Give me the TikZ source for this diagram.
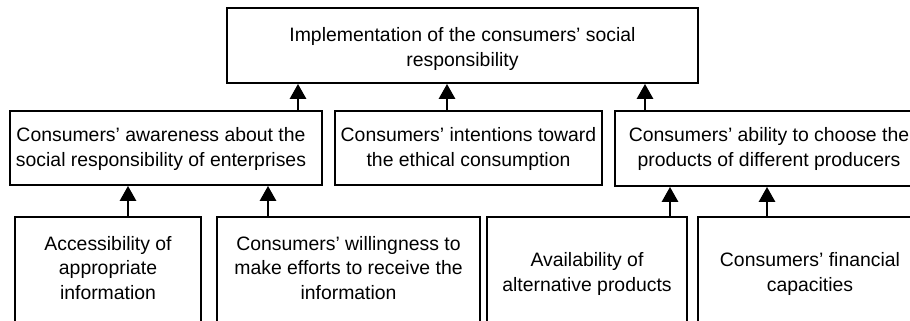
\documentclass[tikz,border=0pt]{standalone}
\usepackage{fontspec}
\setmainfont{Liberation Sans}
\usetikzlibrary{arrows.meta}
\begin{document}
\begin{tikzpicture}[x=0.5pt,y=-0.5pt,
  box/.style={draw,line width=0.9pt,inner sep=0pt},
  txt/.style={align=center,font=\fontsize{9.7pt}{12.2pt}\selectfont,inner sep=0pt},
  arr/.style={line width=1.4pt,-{Triangle[width=8pt,length=7.5pt]}}]
\clip (0,0) rectangle (910,321);
\fill[white] (0,0) rectangle (910,321);
% top
\node[box,minimum width=235.5pt,minimum height=37.5pt] (top) at (462.5,45.5) {};
\node[txt] (topt) at (462.5,49) {Implementation of the consumers’ social\\responsibility};
% middle
\node[box,minimum width=156pt,minimum height=37pt] (m1) at (166,148) {};
\node[txt] (m1t) at (161,149) {Consumers’ awareness about the\\social responsibility of enterprises};
\node[box,minimum width=133.5pt,minimum height=37pt] (m2) at (468.5,148) {};
\node[txt] (m2t) at (468.5,149) {Consumers’ intentions toward\\the ethical consumption};
\node[box,minimum width=155pt,minimum height=37.5pt] (m3) at (770,148.5) {};
\node[txt] (m3t) at (769,149) {Consumers’ ability to choose the\\products of different producers};
% bottom
\node[box,minimum width=93pt,minimum height=60pt] (b1) at (108,277) {};
\node[txt] (b1t) at (108,268) {Accessibility of\\appropriate\\information};
\node[box,minimum width=131.5pt,minimum height=60pt] (b2) at (348.5,277) {};
\node[txt] (b2t) at (348.5,268) {Consumers’ willingness to\\make efforts to receive the\\information};
\node[box,minimum width=100pt,minimum height=60pt] (b3) at (587,277) {};
\node[txt] (b3t) at (587,274) {Availability of\\alternative products};
\node[box,minimum width=112pt,minimum height=60pt] (b4) at (810,277) {};
\node[txt] (b4t) at (810,274) {Consumers’ financial\\capacities};
% arrow x positions
\coordinate (xa) at (298,0);
\coordinate (xb) at (447,0);
\coordinate (xc) at (645,0);
\coordinate (xd) at (128,0);
\coordinate (xe) at (268,0);
\coordinate (xf) at (670,0);
\coordinate (xg) at (767,0);
\draw[arr] (m1.north -| xa) -- (top.south -| xa);
\draw[arr] (m2.north -| xb) -- (top.south -| xb);
\draw[arr] (m3.north -| xc) -- (top.south -| xc);
\draw[arr] (b1.north -| xd) -- (m1.south -| xd);
\draw[arr] (b2.north -| xe) -- (m1.south -| xe);
\draw[arr] (b3.north -| xf) -- (m3.south -| xf);
\draw[arr] (b4.north -| xg) -- (m3.south -| xg);
\end{tikzpicture}
\end{document}
